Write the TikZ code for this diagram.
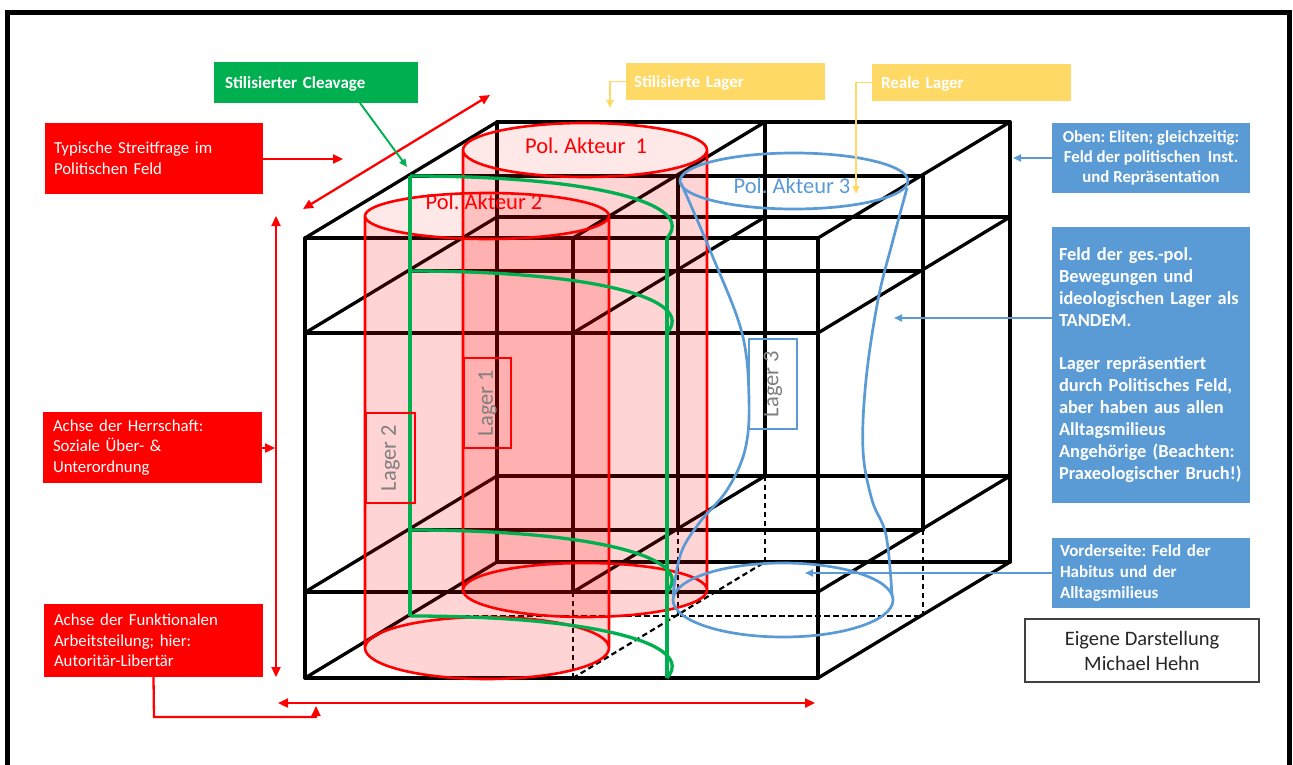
\documentclass[tikz,border=0pt]{standalone}
\usepackage{fontspec}
\setmainfont{Carlito}
\usetikzlibrary{arrows.meta}
\definecolor{boxred}{HTML}{FF0000}
\definecolor{cleavgreen}{HTML}{00B050}
\definecolor{lagergold}{HTML}{FFD966}
\definecolor{fieldblue}{HTML}{5B9BD5}
\definecolor{lagergray}{HTML}{7F7F7F}
\definecolor{framegray}{HTML}{404040}
\frenchspacing
\begin{document}
\begin{tikzpicture}[x=1pt,y=-1pt,
  cubeline/.style={line width=3.3pt,black,line cap=round,line join=round},
  cubehidden/.style={line width=2.2pt,black,dash pattern=on 5.5pt off 3.5pt},
  cylline/.style={line width=2.6pt,boxred},
  cleav/.style={line width=3.3pt,cleavgreen},
  lagerline/.style={line width=2.7pt,fieldblue},
  redtip/.tip={Triangle[length=10pt,width=9pt]},
  smalltip/.tip={Triangle[length=8pt,width=7pt]},
  redarrow/.style={draw=boxred,line width=2.3pt,-redtip},
  reddouble/.style={draw=boxred,line width=2.3pt,redtip-redtip},
  greenarrow/.style={draw=cleavgreen,line width=1.9pt,-smalltip},
  goldarrow/.style={draw=lagergold,line width=1.9pt,-smalltip},
  bluearrow/.style={draw=fieldblue,line width=1.9pt,-smalltip},
  redbox/.style={fill=boxred,text=white,align=left,inner ysep=0pt,
    font=\fontsize{16.8}{20.6}\selectfont},
  tagbox/.style={text=white,align=left,inner ysep=0pt,
    font=\bfseries\fontsize{17}{20.6}\selectfont},
  lagerbox/.style={line width=1.6pt,text=lagergray,inner sep=0pt,
    font=\fontsize{22.5}{26}\selectfont},
  actor/.style={font=\fontsize{22.5}{27}\selectfont}
]
\useasboundingbox (0,0) rectangle (1293,765);
\clip (0,0) rectangle (1293,765);
\fill[white] (0,0) rectangle (1293,765);
% outer frame
\draw[line width=5.5pt] (7.5,12.5) rectangle (1289.5,800);

% lattice points of the box: column i, level j, depth k
\foreach \i/\xx in {0/305,1/573,2/818}{
  \foreach \j/\yy in {0/678,1/592,2/333,3/238}{
    \foreach \k/\dx/\dy in {0/0/0,1/105/-62,2/192/-116}{
      \coordinate (c\i\j\k) at ({\xx+\dx},{\yy+(\dy)});
}}}

% lines along the width
\draw[cubeline] (c030)--(c230) (c020)--(c220) (c010)--(c210) (c000)--(c200)
  (c031)--(c231) (c021)--(c221) (c011)--(c211)
  (c032)--(c232) (c022)--(c222) (c012)--(c212) (c002)--(c202);
\draw[cubehidden] (c001)--(c201);
% vertical lines
\foreach \i in {0,1,2}{\foreach \k in {0,1,2}{\draw[cubeline] (c\i1\k)--(c\i3\k);}}
\draw[cubeline] (c000)--(c010) (c200)--(c210) (c002)--(c012) (c202)--(c212);
\draw[cubehidden] (c100)--(c110) (c001)--(c011) (c101)--(c111) (c201)--(c211) (c102)--(c112);
% lines along the depth
\foreach \i in {0,1,2}{\foreach \j in {1,2,3}{\draw[cubeline] (c\i\j0)--(c\i\j2);}}
\draw[cubeline] (c000)--(c002) (c200)--(c202);
\draw[cubehidden] (c100)--(c102);

% stylised camps: two translucent cylinders
\fill[boxred,fill opacity=0.17] (463,150) -- (463,590)
  arc[start angle=180,end angle=0,x radius=122,y radius=27] -- (707,150)
  arc[start angle=0,end angle=180,x radius=122,y radius=27] -- cycle;
\fill[boxred,fill opacity=0.09] (585,150) ellipse[x radius=122,y radius=27];
\fill[boxred,fill opacity=0.17] (365,216) -- (365,648)
  arc[start angle=180,end angle=0,x radius=122,y radius=31] -- (609,216)
  arc[start angle=0,end angle=180,x radius=122,y radius=23] -- cycle;
\fill[boxred,fill opacity=0.09] (487,216) ellipse[x radius=122,y radius=23];

\draw[cylline] (585,150) ellipse[x radius=122,y radius=27]
  (463,150) -- (463,590) (707,150) -- (707,590)
  (585,590) ellipse[x radius=122,y radius=27];
\draw[cylline] (487,216) ellipse[x radius=122,y radius=23]
  (365,216) -- (365,648) (609,216) -- (609,648)
  (487,648) ellipse[x radius=122,y radius=31];

% stylised cleavage
\foreach \j/\yy in {0/678,1/592,2/333,3/238}{
  \coordinate (g\j) at (667,\yy);
  \draw[cleav] (c0\j1) .. controls +(185,0) and +(30,-34) .. (g\j);
}
\draw[cleav] (c031) -- (c001);
\draw[cleav] (g3) -- (g0);

% real camp
\draw[lagerline] (794,181) ellipse[x radius=114,y radius=28];
\draw[lagerline] plot[smooth,tension=0.6] coordinates {(681,183) (712,255) (742,333) (749,400) (745,450) (727,490) (700,522) (681,553) (673,595)};
\draw[lagerline] plot[smooth,tension=0.6] coordinates {(907,188) (893,240) (878,300) (866,380) (863,450) (872,500) (886,535) (892,595)};
\draw[lagerline] (783,600) ellipse[x radius=110,y radius=37];

% actor labels
\node[actor,text=boxred] (akt1) at (586,146) {Pol. Akteur~~1};
\node[actor,text=boxred] (akt2) at (484,202) {Pol. Akteur 2};
\node[actor,text=fieldblue] (akt3) at (792,186) {Pol. Akteur 3};

\node[lagerbox,draw=boxred,rotate=90,minimum width=90pt,minimum height=49pt] (lager2) at (390.5,458) {Lager 2};
\node[lagerbox,draw=boxred,rotate=90,minimum width=90pt,minimum height=47pt] (lager1) at (487.5,403) {Lager 1};
\node[lagerbox,draw=fieldblue,rotate=90,minimum width=90pt,minimum height=48pt] (lager3) at (773,384) {Lager 3};

% axes
\coordinate (sf-a) at (303,209);
\coordinate (sf-b) at (490,95);
\draw[reddouble] (sf-a) -- (sf-b);
\coordinate (hs-a) at (276,216);
\coordinate (hs-b) at (276,677);
\draw[reddouble] (hs-a) -- (hs-b);
\coordinate (fa-a) at (278,703);
\coordinate (fa-b) at (815,703);
\draw[reddouble] (fa-a) -- (fa-b);

% left annotations
\node[redbox,minimum width=218pt,minimum height=71pt,text width=200pt,inner xsep=9pt] (typ) at (154,158.5)
  {Typische Streitfrage im\\Politischen Feld};
\node[redbox,minimum width=219pt,minimum height=71pt,text width=199pt,inner xsep=10pt] (herr) at (152.5,447.5)
  {Achse der Herrschaft:\\Soziale Über- \&\\Unterordnung};
\node[redbox,minimum width=219pt,minimum height=73pt,text width=199pt,inner xsep=10pt] (funk) at (153.5,640.5)
  {Achse der Funktionalen\\Arbeitsteilung; hier:\\Autoritär-Libertär};

\coordinate (typ-tip) at (343,159);
\draw[redarrow] (typ.east |- typ-tip) -- (typ-tip);
\coordinate (herr-tip) at (275,448);
\draw[redarrow] (herr.east |- herr-tip) -- (herr-tip);
\coordinate (funk-tip) at (316,706);
\draw[redarrow] (funk.south) -- (154,717) -| (funk-tip);

% top annotations
\node[tagbox,fill=cleavgreen,text depth=0pt,minimum width=204pt,minimum height=41pt,text width=182pt,inner xsep=11pt] (clv) at (316,82.5)
  {Stilisierter Cleavage};
\coordinate (clv-tip) at (407,167);
\draw[greenarrow] (360,103) -- (clv-tip);

\node[tagbox,fill=lagergold,text depth=0pt,minimum width=199pt,minimum height=37pt,text width=183pt,inner xsep=8pt] (stl) at (725.5,81.5)
  {Stilisierte Lager};
\coordinate (stl-tip) at (610,108);
\draw[goldarrow] (stl.west) -| (stl-tip);

\node[tagbox,fill=lagergold,text depth=0pt,minimum width=199pt,minimum height=37pt,text width=181pt,inner xsep=9pt] (rl) at (971.5,82.5)
  {Reale Lager};
\coordinate (rl-tip) at (856,194);
\draw[goldarrow] (rl.west) -| (rl-tip);

% right annotations
\node[tagbox,fill=fieldblue,align=center,minimum width=198pt,minimum height=70pt,
  font=\bfseries\fontsize{16.8}{20.2}\selectfont] (oben) at (1151,158)
  {Oben: Eliten; gleichzeitig:\\Feld der politischen~~Inst.\\und Repräsentation};
\coordinate (oben-tip) at (1013,158);
\draw[bluearrow] (oben.west) -- (oben-tip);

\node[tagbox,fill=fieldblue,minimum width=198pt,minimum height=276pt,text width=184pt,inner xsep=7pt,
  font=\bfseries\fontsize{18.4}{21.9}\selectfont] (feld) at (1151,365)
  {Feld der ges.-pol.\\Bewegungen und\\ideologischen Lager als\\TANDEM.\\[21.9pt]Lager repräsentiert\\durch Politisches Feld,\\aber haben aus allen\\Alltagsmilieus\\Angehörige (Beachten:\\Praxeologischer Bruch!)};
\coordinate (feld-tip) at (894,318);
\draw[bluearrow] (feld.west |- feld-tip) -- (feld-tip);

\node[tagbox,fill=fieldblue,minimum width=198pt,minimum height=70pt,text width=182pt,inner xsep=8pt,
  font=\bfseries\fontsize{17}{21}\selectfont] (vord) at (1151,573)
  {Vorderseite: Feld der\\Habitus und der\\Alltagsmilieus};
\coordinate (vord-tip) at (805,573);
\draw[bluearrow] (vord.west) -- (vord-tip);

\node[draw=framegray,line width=1.2pt,fill=white,align=center,minimum width=234pt,minimum height=63pt,
  text=black!85,font=\fontsize{20.5}{25}\selectfont] (src) at (1142,650.5)
  {Eigene Darstellung\\Michael Hehn};
\end{tikzpicture}
\end{document}
